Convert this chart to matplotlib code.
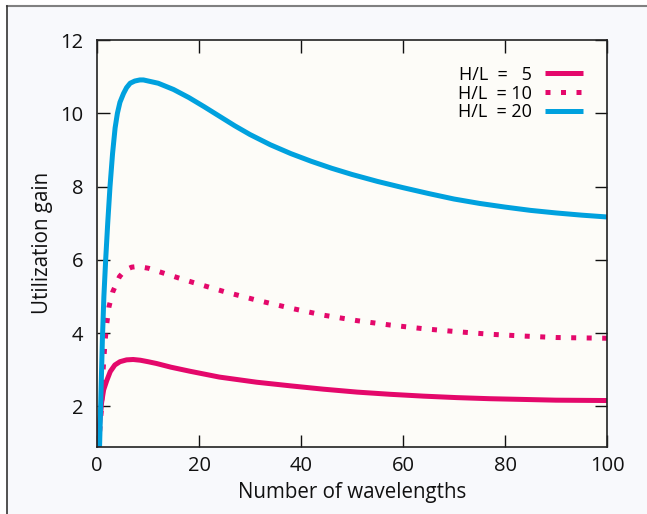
import matplotlib
matplotlib.use('Agg')
import matplotlib.pyplot as plt
from matplotlib.lines import Line2D
from matplotlib.patches import Rectangle

# values
x_hl20 = [0.5, 0.75, 1.05, 1.35, 1.7, 2.1, 2.55, 3.05, 3.55, 4.0, 4.5, 5.2, 5.8, 6.5, 7.4, 8.4, 9.1,
          12, 15, 18, 21, 24, 27, 30, 34, 38, 42, 46, 50, 55, 60, 65, 70, 75, 80, 85, 90, 95, 100]
y_hl20 = [0.9, 2.2, 3.8, 5.0, 6.0, 7.0, 8.0, 8.9, 9.6, 10.0, 10.3, 10.54, 10.7, 10.82, 10.88, 10.91, 10.91,
          10.82, 10.65, 10.43, 10.18, 9.92, 9.66, 9.42, 9.14, 8.9, 8.69, 8.5, 8.33, 8.14, 7.97, 7.81,
          7.66, 7.54, 7.44, 7.35, 7.28, 7.22, 7.17]

x_hl10 = [0.3, 0.9, 1.2, 1.57, 1.9, 2.35, 3.1, 4.4, 5.5, 6.8, 8.0, 10.1, 13.0, 15.9, 18.9,
          25.0, 31.3, 38.0, 44.4, 51.0, 57.5, 64.0, 70.5, 77.0, 83.6, 90.0, 100.0]
y_hl10 = [0.9, 2.0, 3.0, 3.76, 4.24, 4.72, 5.13, 5.54, 5.72, 5.80, 5.82, 5.77, 5.64, 5.51, 5.38,
          5.13, 4.90, 4.68, 4.49, 4.34, 4.22, 4.12, 4.04, 3.97, 3.92, 3.88, 3.86]

x_hl5 = [0.2, 0.5, 0.9, 1.3, 1.9, 2.6, 3.5, 4.5, 5.8, 7.1, 8.5, 10.0, 11.7, 14.5, 18.2,
         24.0, 31.3, 38.0, 44.4, 51.0, 57.5, 64.0, 70.5, 77.0, 83.6, 90.0, 100.0]
y_hl5 = [0.9, 1.5, 2.1, 2.45, 2.7, 2.95, 3.13, 3.22, 3.27, 3.28, 3.26, 3.22, 3.17, 3.07, 2.96,
         2.8, 2.66, 2.56, 2.47, 2.39, 2.33, 2.28, 2.24, 2.21, 2.19, 2.17, 2.16]

legend_labels = ['H/L  =   5', 'H/L  = 10', 'H/L  = 20']
x_ticks = [0, 20, 40, 60, 80, 100]
y_ticks = [2, 4, 6, 8, 10, 12]

pink = '#e4086b'
blue = '#00a1de'

plt.rcParams['font.family'] = ['Open Sans', 'DejaVu Sans']

fig = plt.figure(figsize=(6.47, 5.14), dpi=100)
fig.patch.set_facecolor('white')

# light panel with a frame on top and left
W, H = 647, 514
fig.add_artist(Rectangle((7 / W, 0), 1, 1 - 6 / H, transform=fig.transFigure,
                         facecolor='#f8f9fc', edgecolor='none', zorder=-10))
fig.add_artist(Line2D([7 / W, 1], [1 - 6 / H, 1 - 6 / H], transform=fig.transFigure,
                      color='#808080', lw=1.5))
fig.add_artist(Line2D([7 / W, 7 / W], [0, 1 - 6 / H], transform=fig.transFigure,
                      color='#333333', lw=1.2))

ax = fig.add_axes([97 / W, 1 - 446.7 / H, 510 / W, 406.7 / H])
ax.set_facecolor('#fdfcf8')

lw = 3.6
l1, = ax.plot(x_hl5, y_hl5, color=pink, lw=lw, solid_capstyle='butt')
l2, = ax.plot(x_hl10, y_hl10, color=pink, lw=lw, linestyle=(0, (1, 2.1)),
              dash_capstyle='butt')
l3, = ax.plot(x_hl20, y_hl20, color=blue, lw=lw, solid_capstyle='butt')

ax.set_xlim(0, 100)
ax.set_ylim(0.9, 12)
ax.set_xticks(x_ticks)
ax.set_yticks(y_ticks)
ax.tick_params(direction='in', length=9, width=1, top=True, right=True,
               labelsize=14.5, colors='#111111')
ax.tick_params(axis='x', pad=7)
ax.tick_params(axis='y', pad=10)
for s in ax.spines.values():
    s.set_linewidth(1.2)
    s.set_color('#222222')

ax.set_xlabel('Number of wavelengths', fontsize=14.8, labelpad=4, color='#111111')
ax.set_ylabel('Utilization gain', fontsize=14.8, labelpad=5, color='#111111')

ax.legend([l1, l2, l3], legend_labels, loc='upper right', bbox_to_anchor=(0.953, 0.937),
          frameon=False, markerfirst=False, fontsize=13, handlelength=2.1,
          handletextpad=0.75, labelspacing=0.05, borderpad=0, borderaxespad=0)

fig.savefig('out.png', dpi=100, facecolor=fig.get_facecolor())
